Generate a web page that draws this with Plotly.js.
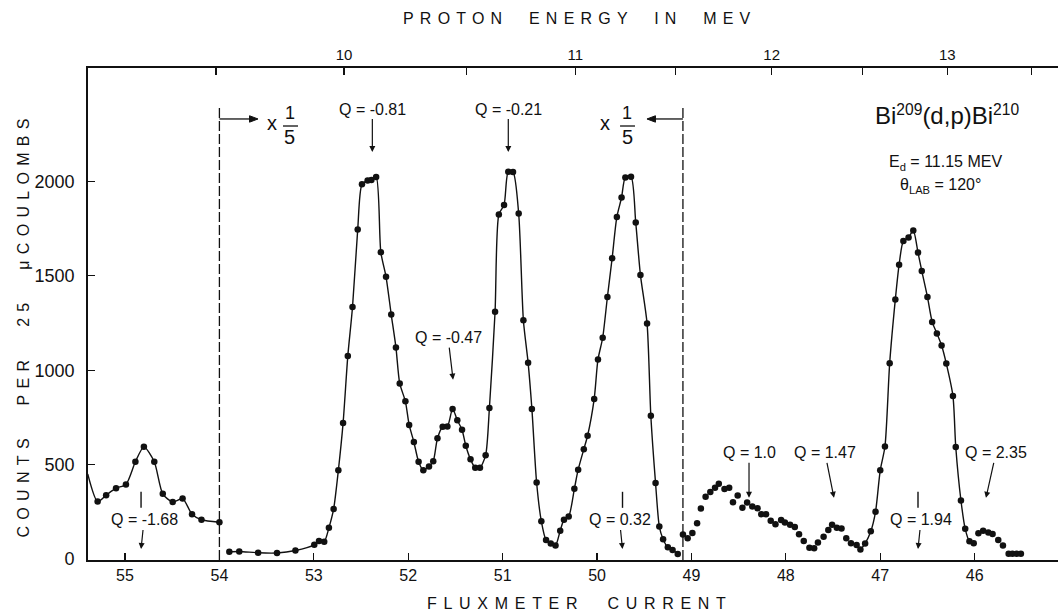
<!DOCTYPE html>
<html><head><meta charset="utf-8">
<script src="https://cdn.plot.ly/plotly-3.0.1.min.js"></script>
<style>html,body{margin:0;padding:0;background:#fff;}#chart{width:1058px;height:615px;}</style>
</head><body><div id="chart"></div>
<script>
// ---------- data (fluxmeter current vs counts per 25 µC) ----------
// left section (55.4 – 54.0), plotted at full scale
const leftX = [55.395, 55.29, 55.20, 55.095, 54.99, 54.89, 54.80, 54.69, 54.60, 54.495, 54.39, 54.29, 54.19, 54.00];
const leftY = [450, 304, 338, 375, 395, 515, 594, 515, 345, 302, 320, 237, 208, 195];
// middle section (54.0 – 49.1), plotted x 1/5
const midX = [53.895, 53.79, 53.59, 53.39, 53.195, 52.995, 52.945, 52.89, 52.84, 52.79, 52.74, 52.69, 52.64, 52.59, 52.535, 52.49, 52.43, 52.39, 52.34, 52.29, 52.235, 52.18, 52.13, 52.09, 52.03, 51.99, 51.94, 51.89, 51.84, 51.78, 51.735, 51.69, 51.635, 51.585, 51.53, 51.48, 51.43, 51.39, 51.34, 51.29, 51.24, 51.18, 51.14, 51.08, 51.04, 50.985, 50.94, 50.89, 50.83, 50.78, 50.73, 50.69, 50.64, 50.59, 50.54, 50.49, 50.44, 50.39, 50.35, 50.30, 50.24, 50.20, 50.14, 50.10, 50.03, 49.99, 49.94, 49.89, 49.84, 49.79, 49.74, 49.70, 49.64, 49.59, 49.54, 49.47, 49.43, 49.38, 49.34, 49.30, 49.25, 49.20, 49.145];
const midY = [38, 40, 33, 32, 45, 75, 95, 92, 165, 265, 470, 720, 1075, 1335, 1745, 1985, 2005, 2008, 2024, 1625, 1495, 1295, 1120, 930, 835, 710, 620, 515, 470, 490, 518, 640, 700, 702, 795, 735, 685, 600, 528, 483, 483, 550, 800, 1310, 1825, 1875, 2052, 2050, 1830, 1265, 1040, 795, 405, 200, 100, 82, 72, 150, 208, 225, 372, 473, 582, 653, 848, 1057, 1172, 1388, 1593, 1812, 1915, 2021, 2025, 1783, 1504, 1248, 759, 402, 172, 105, 62, 48, 27];
// right section, full scale: scattered low points (no curve)
const rightLowX = [49.09, 49.04, 48.99, 48.94, 48.90, 48.85, 48.80, 48.75, 48.71, 48.65, 48.60, 48.56, 48.51, 48.46, 48.41, 48.355, 48.30, 48.26, 48.21, 48.16, 48.11, 48.05, 48.01, 47.955, 47.905, 47.86, 47.81, 47.75, 47.70, 47.66, 47.60, 47.55, 47.51, 47.46, 47.41, 47.36, 47.31, 47.25];
const rightLowY = [130, 110, 138, 190, 267, 330, 355, 377, 398, 371, 378, 301, 336, 272, 299, 278, 269, 237, 237, 202, 184, 207, 193, 181, 170, 131, 96, 60, 57, 87, 118, 154, 182, 165, 161, 110, 83, 74];
// right section: main peak (with curve)
const rightPeakX = [47.21, 47.16, 47.10, 47.05, 47.00, 46.95, 46.90, 46.84, 46.80, 46.755, 46.70, 46.65, 46.60, 46.56, 46.50, 46.45, 46.40, 46.35, 46.30, 46.23, 46.20, 46.145, 46.10, 46.055, 46.01];
const rightPeakY = [50, 82, 147, 250, 470, 596, 1037, 1375, 1559, 1685, 1703, 1740, 1623, 1526, 1388, 1256, 1195, 1131, 1035, 864, 593, 310, 160, 94, 83];
// right section: tail points (no curve)
const rightTailX = [45.96, 45.91, 45.855, 45.81, 45.75, 45.70, 45.64, 45.60, 45.555, 45.51];
const rightTailY = [136, 150, 140, 133, 101, 72, 28, 28, 28, 28];

// axes
const fluxTicks = [55, 54, 53, 52, 51, 50, 49, 48, 47, 46];
const countTicks = [0, 500, 1000, 1500, 2000];
const energyMajorPos = [52.68, 50.23, 48.15, 46.29];
const energyLabels = ['10', '11', '12', '13'];
const energyMinorPos = [54.036, 51.38, 49.17, 47.19, 45.40];
// x 1/5 region boundaries
const scaleBounds = [54.0, 49.09];
// Q-value markers
const qLabels = ['Q = -0.81', 'Q = -0.21', 'Q = -0.47', 'Q = -1.68', 'Q = 0.32', 'Q = 1.94', 'Q = 1.0', 'Q = 1.47', 'Q = 2.35'];
const qPos = [52.38, 50.94, 51.525, 54.83, 49.73, 46.60, 48.39, 47.49, 45.88];

// ---------- styling ----------
const INK = '#111';
const FONT = 'Liberation Sans, Arial, sans-serif';
const XR = [55.392, 45.117];
const YR = [-5.3, 2601];
const SUP = '<span style="font-size:65%;baseline-shift:0.6em">';
const SUB = '<span style="font-size:70%;baseline-shift:-0.4em">';

const qStyle = [
  {tip: 2156, ax: 0, ay: -43},
  {tip: 2156, ax: 0, ay: -43},
  {tip: 950, ax: -5, ay: -42},
  {tip: 53, ax: 3, ay: -29, bar: true},
  {tip: 53, ax: -3, ay: -29, bar: true},
  {tip: 53, ax: 3, ay: -29, bar: true},
  {tip: 324, ax: 0, ay: -45},
  {tip: 324, ax: -9, ay: -45},
  {tip: 324, ax: 10, ay: -45}
];

function curve(x, y, withLine) {
  return {
    x: x, y: y, type: 'scatter', mode: withLine ? 'lines+markers' : 'markers',
    line: {color: INK, width: 1.4, shape: 'spline', smoothing: 0.7},
    marker: {color: INK, size: 6.5}, cliponaxis: false, hoverinfo: 'skip'
  };
}

const traces = [
  curve(leftX, leftY, true),
  curve(midX, midY, true),
  curve(rightLowX, rightLowY, false),
  curve(rightPeakX, rightPeakY, true),
  curve(rightTailX, rightTailY, false),
  {x: energyMajorPos, y: energyMajorPos.map(() => null), xaxis: 'x2', type: 'scatter', mode: 'markers', hoverinfo: 'skip', showlegend: false}
];

const annotations = [];
const shapes = [];

function label(text, x, y, size, extra) {
  annotations.push(Object.assign({text: text, xref: 'paper', yref: 'paper', x: x, y: y, showarrow: false,
    xanchor: 'center', yanchor: 'middle', font: {size: size, color: INK}}, extra || {}));
}

// titles
label('PROTON ENERGY IN MEV', 0.507, 1.1016, 16);
label('FLUXMETER CURRENT', 0.507, -0.0894, 16);
label('COUNTS PER 25 μCOULOMBS', -0.067, 0.4776, 16, {textangle: -90});

// reaction labels
label('Bi' + SUP + '209</span>(d,p)Bi' + SUP + '210</span>', 0.8856, 0.9045, 24);
label('E' + SUB + 'd</span> = 11.15 MEV', 0.8845, 0.8069, 16);
label('θ' + SUB + 'LAB</span> = 120°', 0.8784, 0.7602, 16);

// x 1/5 markers
const fracs = [{x: 0.1897, n: 0.2082, bar: [0.201, 0.2165]}, {x: 0.533, n: 0.5557, bar: [0.5485, 0.5639]}];
fracs.forEach(f => {
  label('x', f.x, 0.8882, 20);
  label('1', f.n, 0.9085, 18);
  label('5', f.n, 0.8598, 20);
  shapes.push({type: 'line', xref: 'paper', yref: 'paper', x0: f.bar[0], x1: f.bar[1], y0: 0.8821, y1: 0.8821, line: {color: INK, width: 1.3}});
});
// horizontal arrows from the dashed boundaries + dashed boundaries
const arrowTips = [53.591, 49.471];
const ARROW_Y = 2331, HEAD_L = 0.09, HEAD_W = 17;
scaleBounds.forEach((b, i) => {
  const tip = arrowTips[i];
  const back = tip + Math.sign(b - tip) * HEAD_L;
  shapes.push({type: 'line', xref: 'x', yref: 'y', x0: b, x1: back, y0: ARROW_Y, y1: ARROW_Y, line: {color: INK, width: 1.3}});
  shapes.push({type: 'path', xref: 'x', yref: 'y', path: `M ${tip},${ARROW_Y} L ${back},${ARROW_Y + HEAD_W} L ${back},${ARROW_Y - HEAD_W} Z`, fillcolor: INK, line: {color: INK, width: 1}});
  shapes.push({type: 'line', xref: 'x', yref: 'paper', x0: b, x1: b, y0: 0, y1: 0.9207, line: {color: INK, width: 1.3, dash: '10px,3px'}});
});

// Q annotations
qLabels.forEach((q, i) => {
  const s = qStyle[i];
  annotations.push({text: q, x: qPos[i], y: s.tip, xref: 'x', yref: 'y', ax: s.ax, ay: s.ay, showarrow: true, arrowhead: 2, arrowsize: 1, arrowwidth: 1.2, arrowcolor: INK, standoff: 0, font: {size: 16, color: INK}});
  if (s.bar) shapes.push({type: 'line', xref: 'x', yref: 'y', x0: qPos[i], x1: qPos[i], y0: 271, y1: 356, line: {color: INK, width: 1.4}});
});

const axBase = {showgrid: false, zeroline: false, showline: true, linecolor: INK, linewidth: 1.8, ticks: 'inside', ticklen: 7, tickwidth: 1.3, tickcolor: INK};

const layout = {
  width: 1058, height: 615,
  margin: {l: 88, r: 0, t: 68, b: 55, pad: 0},
  paper_bgcolor: '#fff', plot_bgcolor: '#fff', showlegend: false,
  font: {family: FONT, color: INK, size: 15},
  xaxis: Object.assign({}, axBase, {range: XR, tickvals: fluxTicks, ticktext: fluxTicks.map(String), tickfont: {size: 16}}),
  xaxis2: Object.assign({}, axBase, {range: XR, overlaying: 'x', side: 'top', anchor: 'y', tickvals: energyMajorPos, ticktext: energyLabels, tickfont: {size: 15},
    minor: {tickvals: energyMinorPos, ticks: 'inside', ticklen: 7, tickwidth: 1.3, tickcolor: INK, showgrid: false}}),
  yaxis: Object.assign({}, axBase, {range: YR, tickvals: countTicks, ticktext: countTicks.map(String), tickfont: {size: 18}, ticklabelstandoff: 8}),
  annotations: annotations,
  shapes: shapes
};

Plotly.newPlot('chart', traces, layout, {staticPlot: true, displayModeBar: false}).then(gd => {
  const spaced = {'PROTON ENERGY IN MEV': [6.2, 10], 'FLUXMETER CURRENT': [6.7, 12], 'COUNTS PER 25 μCOULOMBS': [6.3, 16]};
  gd.querySelectorAll('.annotation-text').forEach(t => {
    const s = spaced[t.textContent];
    if (s) { t.style.letterSpacing = s[0] + 'px'; t.style.wordSpacing = s[1] + 'px'; }
  });
  // drop Plotly's empty placeholder text nodes (unused axis/plot titles)
  gd.querySelectorAll('text').forEach(t => { if (!t.textContent.trim()) t.remove(); });
});
</script>
</body></html>
